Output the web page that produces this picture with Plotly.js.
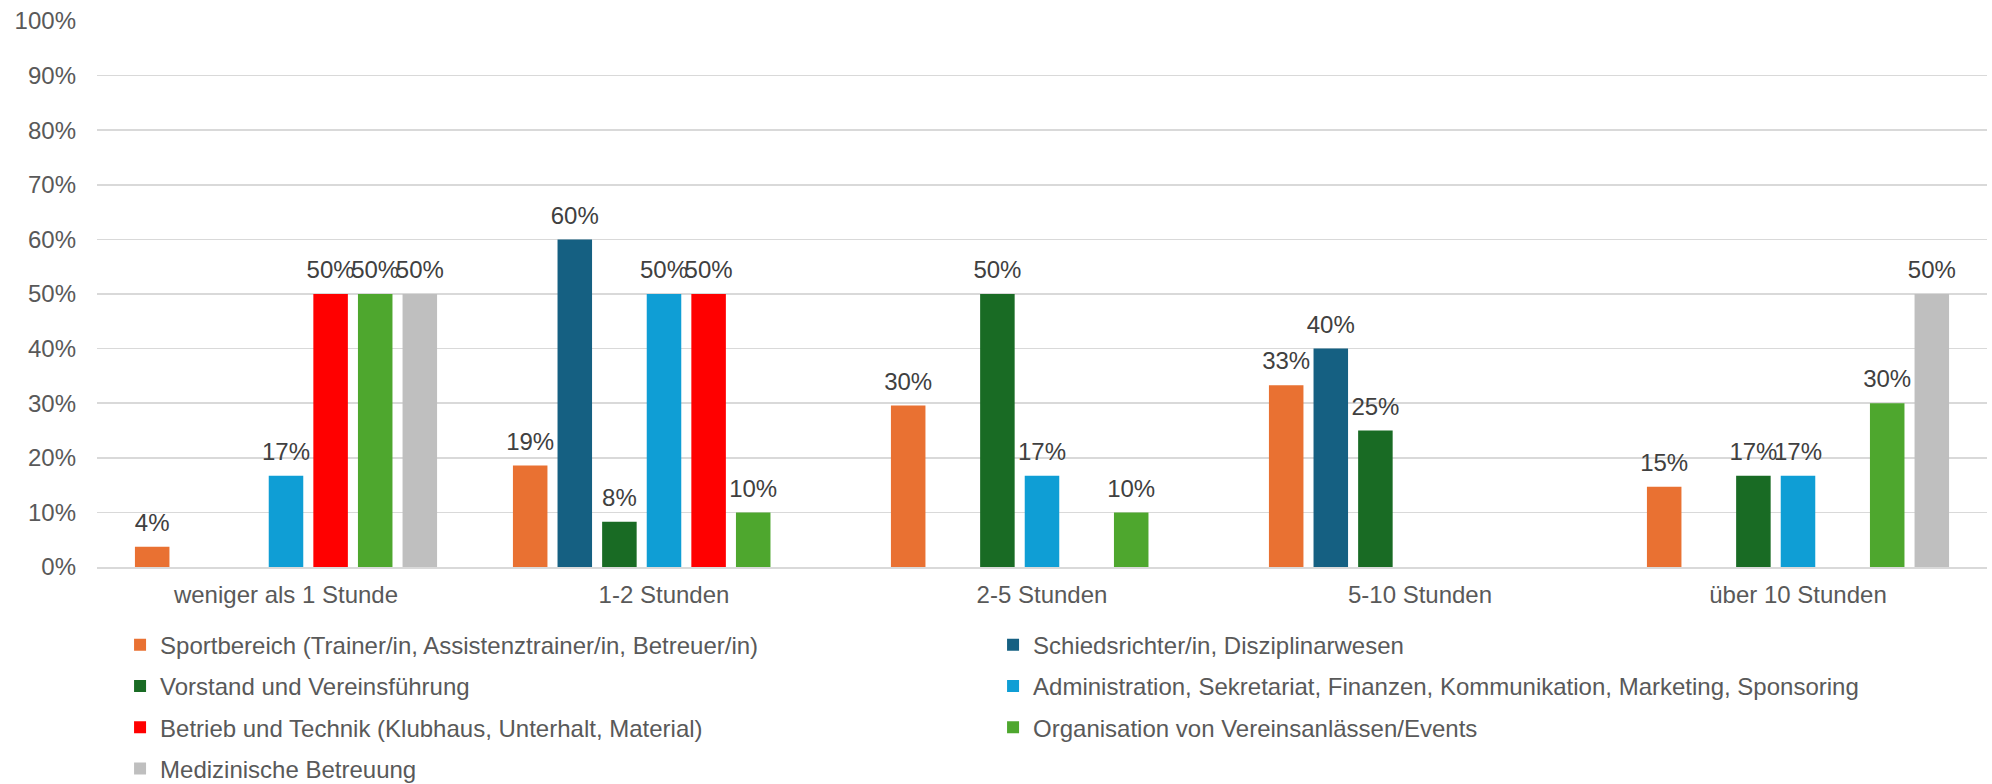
<!DOCTYPE html>
<html>
<head>
<meta charset="utf-8">
<script src="https://cdn.plot.ly/plotly-3.0.1.min.js"></script>
<style>html,body{margin:0;padding:0;background:#fff;}#chart{width:1992px;height:784px;}</style>
</head>
<body>
<div id="chart"></div>
<script>
const categories = ["weniger als 1 Stunde", "1-2 Stunden", "2-5 Stunden", "5-10 Stunden", "über 10 Stunden"];

const seriesNames = [
  "Sportbereich (Trainer/in, Assistenztrainer/in, Betreuer/in)",
  "Schiedsrichter/in, Disziplinarwesen",
  "Vorstand und Vereinsführung",
  "Administration, Sekretariat, Finanzen, Kommunikation, Marketing, Sponsoring",
  "Betrieb und Technik (Klubhaus, Unterhalt, Material)",
  "Organisation von Vereinsanlässen/Events",
  "Medizinische Betreuung"
];

const sportbereich   = [0.037, 0.186, 0.296, 0.333, 0.147];
const schiedsrichter = [null, 0.60, null, 0.40, null];
const vorstand       = [null, 0.083, 0.50, 0.25, 0.167];
const administration = [0.167, 0.50, 0.167, null, 0.167];
const betrieb        = [0.50, 0.50, null, null, null];
const organisation   = [0.50, 0.10, 0.10, null, 0.30];
const medizinisch    = [0.50, null, null, null, 0.50];

const seriesValues = [sportbereich, schiedsrichter, vorstand, administration, betrieb, organisation, medizinisch];
const colors = ["#E97132", "#156082", "#196B24", "#0F9ED5", "#FF0000", "#4EA72E", "#BFBFBF"];

const yTicks = [0, 0.1, 0.2, 0.3, 0.4, 0.5, 0.6, 0.7, 0.8, 0.9, 1.0];

const baseFont = "Liberation Sans, Arial, sans-serif";

const barTraces = seriesNames.map((name, i) => ({
  type: "bar",
  name: name,
  legendgroup: "g" + i,
  x: categories,
  y: seriesValues[i],
  marker: {color: colors[i]},
  hoverinfo: "x+y+name"
}));

// value labels, grouped like the bars
const labelTraces = seriesNames.map((name, i) => ({
  type: "scatter",
  mode: "markers+text",
  name: name,
  legendgroup: "g" + i,
  showlegend: false,
  orientation: "v",
  x: categories,
  y: seriesValues[i],
  marker: {size: 14, color: "rgba(0,0,0,0)"},
  texttemplate: "%{y:.0%}",
  textposition: "top center",
  textfont: {family: baseFont, size: 24, color: "#404040"},
  cliponaxis: false,
  hoverinfo: "skip"
}));

const layout = {
  width: 1992,
  height: 784,
  margin: {l: 97, r: 5, t: 21, b: 217, autoexpand: false},
  paper_bgcolor: "#ffffff",
  plot_bgcolor: "#ffffff",
  barmode: "group",
  bargap: 0.174,
  bargroupgap: 0.226,
  scattermode: "group",
  scattergap: 0.174,
  font: {family: baseFont, size: 24, color: "#595959"},
  xaxis: {
    type: "category",
    tickfont: {family: baseFont, size: 24, color: "#595959"},
    showgrid: false,
    showline: true,
    linecolor: "#D9D9D9",
    linewidth: 1.5,
    ticks: "",
    ticklabelstandoff: 6
  },
  yaxis: {
    range: [0, 1],
    tickvals: yTicks,
    tickformat: ".0%",
    tickfont: {family: baseFont, size: 24, color: "#595959"},
    showgrid: true,
    gridcolor: "#D9D9D9",
    gridwidth: 1.5,
    zeroline: false,
    showline: false,
    ticks: "",
    ticklabelstandoff: 20
  },
  showlegend: true,
  legend: {
    orientation: "h",
    x: 0.0122,
    xanchor: "left",
    y: -0.102,
    yanchor: "top",
    entrywidth: 828,
    entrywidthmode: "pixels",
    font: {family: baseFont, size: 24, color: "#595959"},
    traceorder: "grouped",
    tracegroupgap: 7,
    itemwidth: 30
  }
};

Plotly.newPlot("chart", barTraces.concat(labelTraces), layout, {displayModeBar: false, staticPlot: true});
</script>
</body>
</html>
